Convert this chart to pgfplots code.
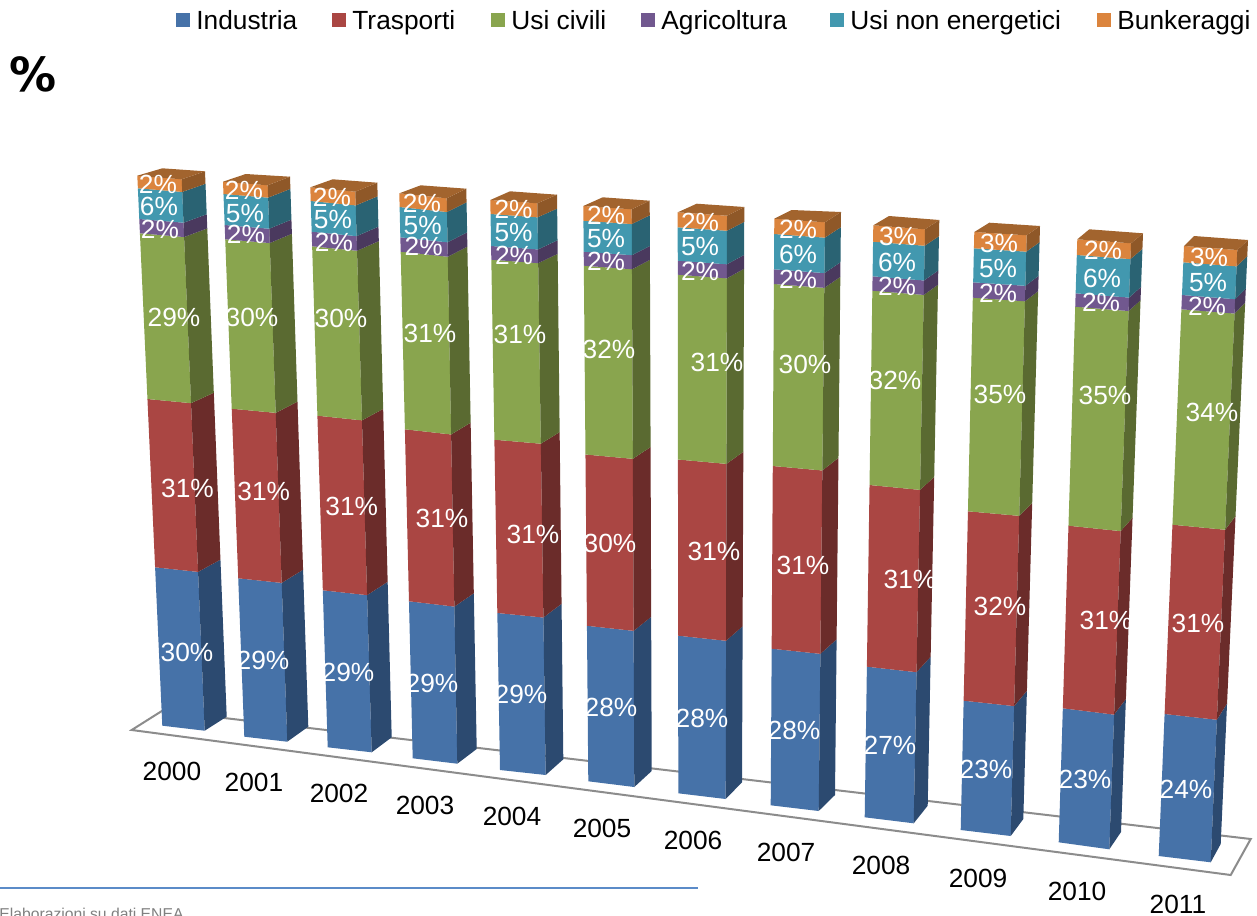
\documentclass[border=0pt]{standalone}
\usepackage{fontspec}
\setmainfont{Liberation Sans}
\newfontfamily\dejavu{DejaVu Sans}
\usepackage{pgfplots}
\usepackage{pgfplotstable}
\pgfplotsset{compat=1.18}
\definecolor{bluF}{HTML}{4672A8}\definecolor{bluS}{HTML}{2C4A70}
\definecolor{redF}{HTML}{AA4643}\definecolor{redS}{HTML}{6B2C2A}
\definecolor{greF}{HTML}{89A54E}\definecolor{greS}{HTML}{5A6A31}
\definecolor{purF}{HTML}{71588F}\definecolor{purS}{HTML}{4A395E}
\definecolor{teaF}{HTML}{4298AF}\definecolor{teaS}{HTML}{2A6373}
\definecolor{oraF}{HTML}{DB843D}\definecolor{oraS}{HTML}{8F5828}\definecolor{oraT}{HTML}{A2642E}
\definecolor{rule}{HTML}{5B8BC8}
\newcommand\ft{\fontsize{13.15}{15}\selectfont}
% y values are image rows of the stack boundaries at each bar's front-left edge
\pgfplotstableread{
year xFLt yFLt xFRt yFRt xBRt yBRt xBLt yBLt ya yb yc yd ye xFLb yFLb xFRb yFRb xBRb yBRb
2000 137.3 175.7 181.7 179.3 205.0 171.3 162.3 168.3 188.3 219.0 233.3 399.0 567.3 162.3 725.7 204.7 730.7 226.7 716.7
2001 223.0 181.7 267.7 185.3 290.0 176.7 245.7 174.0 194.0 225.0 239.3 408.7 578.3 244.3 736.7 287.3 741.7 308.3 726.7
2002 310.3 187.3 355.3 191.7 377.3 182.7 332.7 179.3 201.0 231.7 246.3 415.7 590.3 327.7 747.3 371.7 752.3 391.7 737.3
2003 399.3 193.3 446.7 198.3 466.3 188.7 420.7 185.3 207.0 237.3 251.7 429.3 601.3 412.7 758.3 457.3 763.7 476.7 749.0
2004 490.3 200.0 537.3 203.3 557.0 194.7 510.0 191.3 214.0 246.0 259.7 439.7 613.0 500.0 770.0 545.7 775.0 563.3 759.3
2005 583.3 206.0 631.7 209.3 649.7 200.7 602.7 197.3 220.7 251.7 265.7 454.5 625.8 588.3 781.3 634.3 787.0 651.7 771.0
2006 677.7 212.3 727.0 215.7 744.3 207.0 696.7 203.7 227.3 260.7 274.7 459.5 635.7 678.3 793.3 725.7 799.0 742.0 782.3
2007 774.3 218.7 825.0 222.3 841.0 212.0 791.7 210.0 234.0 269.3 284.0 466.0 648.7 770.7 805.3 818.7 811.0 835.0 795.0
2008 873.3 225.3 925.0 229.3 939.3 220.0 889.0 216.0 241.7 276.3 290.7 485.0 666.7 864.7 817.3 913.7 823.3 927.7 805.7
2009 974.3 232.0 1026.7 235.3 1040.0 226.0 989.3 222.7 248.3 282.3 297.7 511.3 700.7 960.7 830.0 1010.7 836.0 1023.3 819.0
2010 1077.3 239.3 1131.0 243.3 1143.0 233.3 1089.3 229.3 255.0 293.3 306.7 525.7 708.3 1058.7 842.3 1109.3 849.3 1121.0 832.0
2011 1184.0 246.0 1237.3 250.0 1248.0 240.0 1194.0 236.0 262.3 295.0 309.3 524.7 714.0 1158.7 856.0 1210.7 862.3 1220.7 844.0
}\geom
\newcommand\getv[1]{\pgfplotstablegetelem{\barrow}{#1}\of\geom\expandafter\let\csname #1\endcsname\pgfplotsretval}
\newcommand\setlevel[1]{%
  \pgfmathsetmacro\lvT{(#1-\yFLt)/(\yFLb-\yFLt)}%
  \pgfmathsetmacro\lvXa{\xFLt+\lvT*(\xFLb-\xFLt)}%
  \pgfmathsetmacro\lvXb{\xFRt+\lvT*(\xFRb-\xFRt)}%
  \pgfmathsetmacro\lvXc{\xBRt+\lvT*(\xBRb-\xBRt)}%
  \pgfmathsetmacro\lvYa{#1}%
  \pgfmathsetmacro\lvYb{#1+(\yFRt-\yFLt)+\lvT*((\yFRb-\yFLb)-(\yFRt-\yFLt))}%
  \pgfmathsetmacro\lvYc{#1+(\yBRt-\yFLt)+\lvT*((\yBRb-\yFLb)-(\yBRt-\yFLt))}%
}
\newcommand\seg[4]{%
  \setlevel{#3}%
  \let\tXa\lvXa\let\tXb\lvXb\let\tXc\lvXc\let\tYa\lvYa\let\tYb\lvYb\let\tYc\lvYc
  \setlevel{#4}%
  \edef\tmp{\noexpand\addplot[fill=#1,draw=none,forget plot] coordinates {(\tXa,\tYa)(\tXb,\tYb)(\lvXb,\lvYb)(\lvXa,\lvYa)} --cycle;}\tmp
  \edef\tmp{\noexpand\addplot[fill=#2,draw=none,forget plot] coordinates {(\tXb,\tYb)(\tXc,\tYc)(\lvXc,\lvYc)(\lvXb,\lvYb)} --cycle;}\tmp
}
\newcommand\lab[3]{\node[font=\ft,text=white,anchor=base,yshift=-4.6pt,inner sep=0pt] at (axis cs:#1,#2) {#3\%};}
\newcommand\yr[3]{\node[font=\ft,anchor=base,yshift=-4.6pt,inner sep=0pt] at (axis cs:#1,#2) {#3};}
\newcommand\leg[3]{%
  \addplot[fill=#1,draw=none,forget plot] coordinates {(#2,13)(#2+14,13)(#2+14,27)(#2,27)} --cycle;
  \node[font=\ft,anchor=base west,inner sep=0pt] at (axis cs:#2+20,30) {#3};}
\begin{document}
\begin{tikzpicture}
\path[use as bounding box] (0,0) rectangle (628.5pt,457.5pt);
\begin{axis}[at={(0,0)},anchor=south west,scale only axis,width=628.5pt,height=457.5pt,
  xmin=0,xmax=1257,ymin=0,ymax=915,y dir=reverse,hide axis,clip=false]
% floor
\addplot[draw=black!45,line width=1pt,forget plot] coordinates {(131.7,730)(1230.7,875)(1250.7,839)(162.3,710.7)} --cycle;
% bars
\pgfplotsforeachungrouped \barrow in {0,...,11}{%
  \getv{xFLt}\getv{yFLt}\getv{xFRt}\getv{yFRt}\getv{xBRt}\getv{yBRt}\getv{xBLt}\getv{yBLt}%
  \getv{ya}\getv{yb}\getv{yc}\getv{yd}\getv{ye}%
  \getv{xFLb}\getv{yFLb}\getv{xFRb}\getv{yFRb}\getv{xBRb}\getv{yBRb}%
  \seg{bluF}{bluS}{\ye}{\yFLb}%
  \seg{redF}{redS}{\yd}{\ye}%
  \seg{greF}{greS}{\yc}{\yd}%
  \seg{purF}{purS}{\yb}{\yc}%
  \seg{teaF}{teaS}{\ya}{\yb}%
  \seg{oraF}{oraS}{\yFLt}{\ya}%
  \edef\tmp{\noexpand\addplot[fill=oraT,draw=none,forget plot] coordinates {(\xFLt,\yFLt)(\xFRt,\yFRt)(\xBRt,\yBRt)(\xBLt,\yBLt)} --cycle;}\tmp
}
% data labels
\lab{158}{184}{2}\lab{159}{206}{6}\lab{160}{229}{2}\lab{174}{317}{29}\lab{187.5}{488}{31}\lab{187}{652}{30}
\lab{244}{190}{2}\lab{245}{213}{5}\lab{246}{234}{2}\lab{252}{317}{30}\lab{263.7}{491}{31}\lab{263}{660}{29}
\lab{332}{197}{2}\lab{333}{219}{5}\lab{334}{242}{2}\lab{341}{318}{30}\lab{351.7}{506}{31}\lab{348}{672}{29}
\lab{422}{203}{2}\lab{422.7}{225}{5}\lab{423.7}{246}{2}\lab{430}{333}{31}\lab{442}{518}{31}\lab{432}{683}{29}
\lab{513.5}{209}{2}\lab{513.5}{232}{5}\lab{514}{255}{2}\lab{520}{334}{31}\lab{533}{534}{31}\lab{521}{694}{29}
\lab{606}{215}{2}\lab{606}{238}{5}\lab{606}{261}{2}\lab{609}{349}{32}\lab{610}{543}{30}\lab{611}{707}{28}
\lab{700}{222}{2}\lab{700}{246}{5}\lab{700}{271}{2}\lab{717}{362}{31}\lab{714}{551}{31}\lab{702}{718}{28}
\lab{798}{229}{2}\lab{798}{254}{6}\lab{798}{279}{2}\lab{805}{364}{30}\lab{803}{565}{31}\lab{794}{730}{28}
\lab{898}{236}{3}\lab{897}{262}{6}\lab{897}{286}{2}\lab{895}{380}{32}\lab{910}{579}{31}\lab{890}{745}{27}
\lab{999}{243}{3}\lab{998}{268}{5}\lab{998}{293}{2}\lab{1000}{394}{35}\lab{1000}{606}{32}\lab{986}{769}{23}
\lab{1103}{250}{2}\lab{1102}{278}{6}\lab{1101}{302}{2}\lab{1105}{395}{35}\lab{1106}{620}{31}\lab{1085}{779}{23}
\lab{1209}{257}{3}\lab{1208}{282}{5}\lab{1207}{306}{2}\lab{1212}{412}{34}\lab{1198}{623}{31}\lab{1186}{789}{24}
% category labels
\yr{172}{771}{2000}\yr{254}{782}{2001}\yr{339}{793}{2002}\yr{425}{805}{2003}
\yr{512}{816}{2004}\yr{602}{828}{2005}\yr{693}{840}{2006}\yr{786}{852}{2007}
\yr{881}{865}{2008}\yr{978}{878}{2009}\yr{1077}{891}{2010}\yr{1178}{904}{2011}
% legend
\leg{bluF}{176}{Industria}\leg{redF}{332}{Trasporti}\leg{greF}{491}{Usi civili}
\leg{purF}{641}{Agricoltura}\leg{teaF}{830}{Usi non energetici}\leg{oraF}{1097}{Bunkeraggi}
% unit, rule, source
\node[anchor=center,inner sep=0pt] at (axis cs:33.5,74) {\dejavu\bfseries\fontsize{23.5}{28}\selectfont\%};
\addplot[color=rule,line width=1pt,forget plot] coordinates {(0,888)(698,888)};
\node[anchor=base west,inner sep=0pt,text=black!50] at (axis cs:-1,919) {\fontsize{7.85}{9}\selectfont Elaborazioni su dati ENEA};
\end{axis}
\end{tikzpicture}
\end{document}
